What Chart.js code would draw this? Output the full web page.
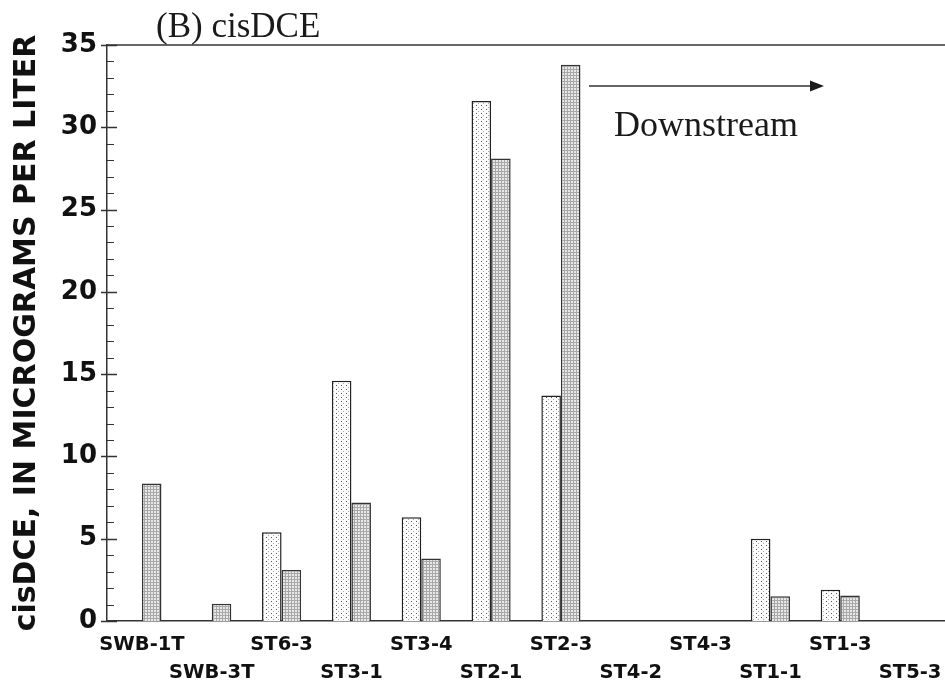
<!DOCTYPE html>
<html>
<head>
<meta charset="utf-8">
<script src="https://cdn.jsdelivr.net/npm/chart.js@4"></script>
<style>
  body { margin: 0; background: #fff; overflow: hidden; }
  #wrap { width: 945px; height: 681px; position: relative; }
</style>
</head>
<body>
<div id="wrap"><canvas id="grafica"></canvas></div>
<script>
// sites, in downstream order
let sitios = ["SWB-1T", "SWB-3T", "ST6-3", "ST3-1", "ST3-4", "ST2-1", "ST2-3", "ST4-2", "ST4-3", "ST1-1", "ST1-3", "ST5-3"];
// cisDCE, micrograms per liter (null = no bar)
let serieA = [null, null, 5.4, 14.6, 6.3, 31.6, 13.7, null, null, 5.0, 1.9, null];
let serieB = [8.35, 1.05, 3.1, 7.2, 3.8, 28.1, 33.8, null, null, 1.5, 1.55, null];
let yMax = 35;
let yPaso = 5;

// staggered labels: every other one goes on the second line
let etiquetas = sitios.map((s, i) => (i % 2 === 0 ? s : ["", s]));

function patron(w, h, dibujar) {
  let c = document.createElement("canvas");
  c.width = w;
  c.height = h;
  let ctx = c.getContext("2d");
  dibujar(ctx);
  return ctx.createPattern(c, "repeat");
}

// light dotted fill
let puntos = patron(5, 4, (c) => {
  c.fillStyle = "#fbfbfb";
  c.fillRect(0, 0, 5, 4);
  c.fillStyle = "#555";
  c.fillRect(1, 1, 1, 1);
  c.fillStyle = "#aaa";
  c.fillRect(3, 3, 1, 1);
});

// denser gray grid fill
let rejilla = patron(3, 3, (c) => {
  c.fillStyle = "#e8e8e8";
  c.fillRect(0, 0, 3, 3);
  c.fillStyle = "#a8a8a8";
  c.fillRect(0, 0, 3, 1);
  c.fillRect(0, 0, 1, 3);
});

// title, arrow, top frame and y ticks
const extras = {
  id: "extras",
  afterDraw(chart) {
    let ctx = chart.ctx;
    let area = chart.chartArea;
    let y = chart.scales.y;
    ctx.save();
    ctx.strokeStyle = "#333";
    ctx.lineWidth = 1.5;
    // top frame
    ctx.beginPath();
    ctx.moveTo(area.left, area.top);
    ctx.lineTo(area.right, area.top);
    ctx.stroke();
    // y ticks, minor every 1, major every 5
    for (let v = 0; v <= yMax; v++) {
      let py = Math.round(y.getPixelForValue(v)) + 0.5;
      ctx.beginPath();
      if (v % yPaso === 0) {
        ctx.lineWidth = 1.5;
        ctx.moveTo(area.left - 6, py);
        ctx.lineTo(area.left + 10, py);
      } else {
        ctx.lineWidth = 1;
        ctx.moveTo(area.left, py);
        ctx.lineTo(area.left + 7, py);
      }
      ctx.stroke();
    }
    // title
    ctx.fillStyle = "#1a1a1a";
    ctx.font = "35px 'Liberation Serif', 'Times New Roman', serif";
    ctx.textBaseline = "alphabetic";
    ctx.textAlign = "left";
    ctx.fillText("(B) cisDCE", 156, 37);
    // downstream arrow
    ctx.lineWidth = 1.5;
    ctx.strokeStyle = "#333";
    ctx.beginPath();
    ctx.moveTo(589, 86);
    ctx.lineTo(814, 86);
    ctx.stroke();
    ctx.beginPath();
    ctx.moveTo(824, 86);
    ctx.lineTo(810, 80.5);
    ctx.lineTo(810, 91.5);
    ctx.closePath();
    ctx.fill();
    ctx.font = "36px 'Liberation Serif', 'Times New Roman', serif";
    ctx.fillText("Downstream", 614, 136);
    ctx.restore();
  },
};

new Chart(document.getElementById("grafica"), {
  type: "bar",
  data: {
    labels: etiquetas,
    datasets: [
      {
        label: "A",
        data: serieA,
        backgroundColor: puntos,
        borderColor: "#222",
        borderWidth: 1.5,
      },
      {
        label: "B",
        data: serieB,
        backgroundColor: rejilla,
        borderColor: "#333",
        borderWidth: 1.5,
      },
    ],
  },
  options: {
    responsive: true,
    maintainAspectRatio: false,
    animation: false,
    datasets: {
      bar: {
        barPercentage: 1,
        categoryPercentage: 0.56,
      },
    },
    layout: {
      padding: { top: 45, right: 0, bottom: 0, left: 0 },
    },
    plugins: {
      legend: { display: false },
      tooltip: { enabled: false },
      title: { display: false },
    },
    scales: {
      x: {
        afterFit: (s) => {
          s.height = 60;
          s.paddingLeft = 0;
          s.paddingRight = 0;
        },
        grid: { display: false, drawTicks: false },
        border: { display: true, color: "#333", width: 1.5 },
        ticks: {
          autoSkip: false,
          maxRotation: 0,
          minRotation: 0,
          padding: 10,
          color: "#111",
          font: { family: "'DejaVu Sans'", size: 19.5, weight: "bold", lineHeight: 1.45 },
        },
      },
      y: {
        min: 0,
        max: yMax,
        afterFit: (s) => {
          s.width = 107;
        },
        grid: { display: false, drawTicks: false },
        border: { display: true, color: "#333", width: 1.5 },
        ticks: {
          stepSize: yPaso,
          padding: 10,
          color: "#111",
          font: { family: "'DejaVu Sans'", size: 26, weight: "bold" },
        },
        title: {
          display: true,
          text: "cisDCE, IN MICROGRAMS PER LITER",
          color: "#111",
          padding: { top: 9, bottom: 0 },
          font: { family: "'DejaVu Sans'", size: 30, weight: "bold" },
        },
      },
    },
  },
  plugins: [extras],
});
</script>
</body>
</html>
